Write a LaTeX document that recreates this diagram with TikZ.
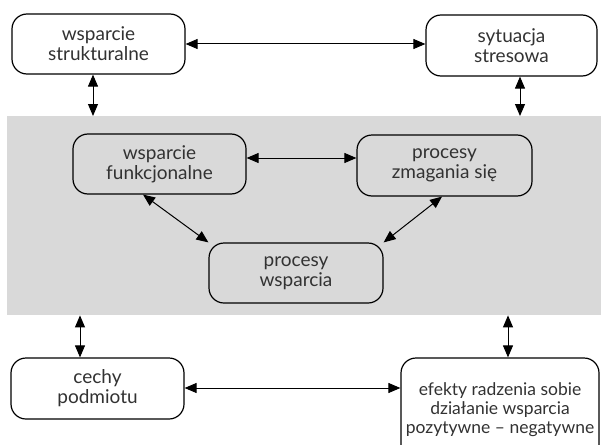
\documentclass[tikz,border=0pt]{standalone}
\usepackage{fontspec}
\setmainfont{Lato}
\usetikzlibrary{arrows.meta}
\definecolor{panelgray}{RGB}{217,217,217}
\definecolor{txt}{RGB}{50,50,50}
\tikzset{
  box/.style={draw=black, line width=1.2pt, rounded corners=15pt, fill=white,
    align=center, inner sep=2pt, text=txt,
    font=\fontsize{19}{20}\selectfont},
  grbox/.style={box, fill=panelgray},
  arr/.style={line width=1pt, {Triangle[length=12pt,width=10pt]}-{Triangle[length=12pt,width=10pt]}}
}
\begin{document}
\begin{tikzpicture}[x=1pt,y=-1pt]
\useasboundingbox (0,0) rectangle (601,444);
\node[fill=panelgray, minimum width=594pt, minimum height=199pt, inner sep=0pt, anchor=north west] (panel) at (7,116) {};
% boxes
\node[box, minimum width=173pt, minimum height=60pt] (ws) at (98.5,44) {wsparcie\\strukturalne};
\node[box, minimum width=171pt, minimum height=61pt] (ss) at (511.5,45.5) {sytuacja\\stresowa};
\node[grbox, minimum width=173pt, minimum height=60pt] (wf) at (159.5,164) {wsparcie\\funkcjonalne};
\node[grbox, minimum width=175pt, minimum height=61pt] (pz) at (444.5,165.5) {procesy\\zmagania się};
\node[grbox, minimum width=174pt, minimum height=60pt] (pw) at (296,273) {procesy\\wsparcia};
\node[box, minimum width=173pt, minimum height=61pt] (cp) at (97.5,388.5) {cechy\\podmiotu};
\node[box, minimum width=198pt, minimum height=104pt, inner sep=1pt, font=\fontsize{17.5}{19}\selectfont] (ef) at (500,410) {efekty radzenia sobie\\działanie wsparcia\\pozytywne – negatywne};
% helper coordinates
\coordinate (x93) at (93,0);
\coordinate (x520) at (520,0);
\coordinate (x80) at (80,0);
\coordinate (x508) at (508,0);
\coordinate (y158) at (0,158);
\coordinate (y388) at (0,388);
% connectors
\draw[arr] (ws.east) -- (ws.east -| ss.west);
\draw[arr] (ws.south -| x93) -- (panel.north -| x93);
\draw[arr] (ss.south -| x520) -- (panel.north -| x520);
\draw[arr] (wf.east |- y158) -- (pz.west |- y158);
\draw[arr] (wf.south -| 143,0) -- (pw.north west) ;
\draw[arr] (pz.south -| 442,0) -- (pw.north east);
\draw[arr] (panel.south -| x80) -- (cp.north -| x80);
\draw[arr] (panel.south -| x508) -- (ef.north -| x508);
\draw[arr] (cp.east |- y388) -- (ef.west |- y388);
\end{tikzpicture}
\end{document}
